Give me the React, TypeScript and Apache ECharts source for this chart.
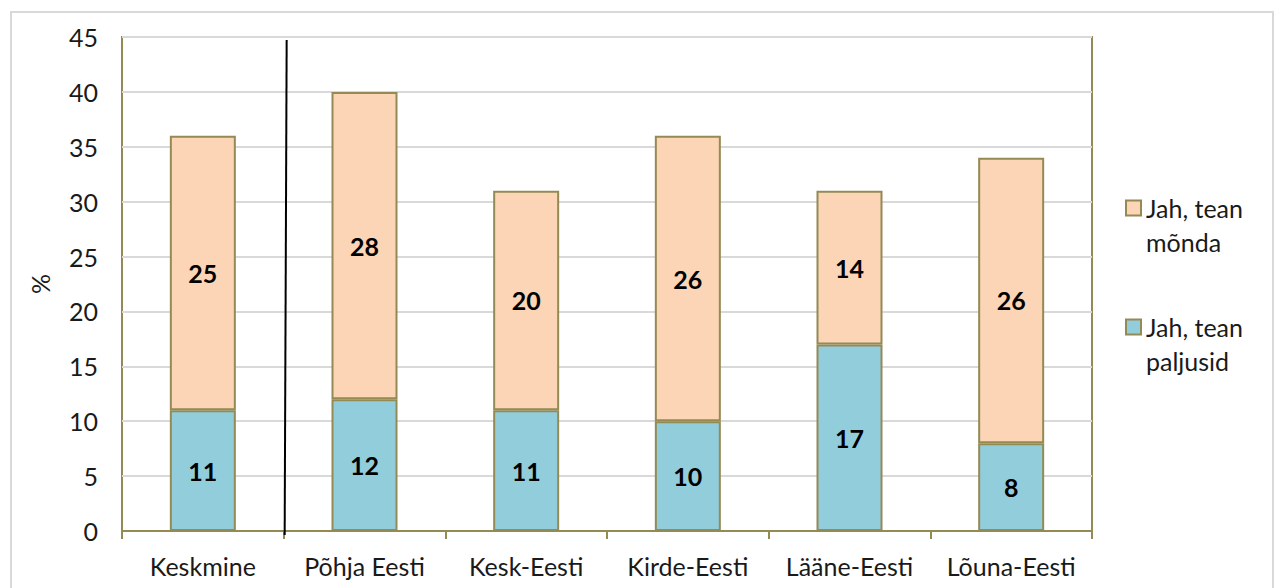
import React, { useEffect, useRef } from "react";
import * as echarts from "echarts";

const categories = ["Keskmine", "Põhja Eesti", "Kesk-Eesti", "Kirde-Eesti", "Lääne-Eesti", "Lõuna-Eesti"];
const paljusid = [11, 12, 11, 10, 17, 8];
const mondaValues = [25, 28, 20, 26, 14, 26];
const seriesNames = ["Jah, tean paljusid", "Jah, tean mõnda"];
const legendOrder = ["Jah, tean mõnda", "Jah, tean paljusid"];
const yTicks = { min: 0, max: 45, interval: 5 };

const FONT = "Lato, 'Open Sans', sans-serif";
const OLIVE = "#948A54";
const FS = 25;

export default function App() {
  const ref = useRef<HTMLDivElement>(null);
  useEffect(() => {
    const chart = echarts.init(ref.current!, null, { renderer: "svg" });
    const labelStyle = {
      show: true,
      position: "inside",
      color: "#000",
      fontFamily: FONT,
      fontWeight: "bold",
      fontSize: FS,
    };
    chart.setOption({
      animation: false,
      backgroundColor: "#fff",
      grid: {
        left: 122,
        right: 182,
        top: 37,
        bottom: 57,
        show: true,
        borderColor: OLIVE,
        borderWidth: 2,
      },
      legend: {
        orient: "vertical",
        left: 1120,
        top: 152,
        itemGap: 17,
        itemWidth: 15,
        itemHeight: 15,
        icon: "rect",
        data: legendOrder,
        formatter: (n: string) => "\n" + n.replace("tean ", "tean\n"),
        textStyle: {
          fontFamily: FONT,
          fontSize: FS,
          color: "#1a1a1a",
          lineHeight: 34,
        },
      },
      xAxis: {
        type: "category",
        data: categories,
        axisLine: { lineStyle: { color: OLIVE, width: 2 } },
        axisTick: { show: true, interval: 0, length: 8, lineStyle: { color: OLIVE, width: 2 } },
        axisLabel: { interval: 0, hideOverlap: false, fontFamily: FONT, fontSize: FS, color: "#1a1a1a", margin: 22 },
      },
      yAxis: {
        type: "value",
        min: yTicks.min,
        max: yTicks.max,
        interval: yTicks.interval,
        name: "%",
        nameLocation: "middle",
        nameRotate: 90,
        nameGap: 70,
        nameTextStyle: { fontFamily: FONT, fontSize: FS, color: "#1a1a1a" },
        axisLine: { show: false },
        axisTick: { show: false },
        axisLabel: { fontFamily: FONT, fontSize: FS, color: "#1a1a1a", margin: 24 },
        splitLine: { lineStyle: { color: "#d9d9d9", width: 2 } },
      },
      series: [
        {
          name: seriesNames[0],
          type: "bar",
          stack: "total",
          data: paljusid,
          barWidth: 66,
          itemStyle: { color: "#92CDDC", borderColor: OLIVE, borderWidth: 2 },
          label: labelStyle,
        },
        {
          name: seriesNames[1],
          type: "bar",
          stack: "total",
          data: mondaValues,
          barWidth: 66,
          itemStyle: { color: "#FBD5B5", borderColor: OLIVE, borderWidth: 2 },
          label: labelStyle,
        },
      ],
    });
    const c0 = chart.convertToPixel({ xAxisIndex: 0 }, categories[0]) as number;
    const c1 = chart.convertToPixel({ xAxisIndex: 0 }, categories[1]) as number;
    const yTop = chart.convertToPixel({ yAxisIndex: 0 }, yTicks.max) as number;
    const yBot = chart.convertToPixel({ yAxisIndex: 0 }, yTicks.min) as number;
    const bx = (c0 + c1) / 2;
    chart.setOption({
      graphic: [
        {
          type: "rect",
          shape: { x: 11, y: 12, width: 1262, height: 600 },
          style: { fill: "none", stroke: "#d9d9d9", lineWidth: 2 },
          silent: true,
          z: 0,
        },
        {
          type: "line",
          shape: { x1: bx + 3, y1: yTop + 3, x2: bx + 1, y2: yBot + 4 },
          style: { stroke: "#000", lineWidth: 2 },
          z: 100,
        },
      ],
    });
    return () => chart.dispose();
  }, []);
  return <div ref={ref} style={{ position: "fixed", left: 0, top: 0, width: 1274, height: 588 }} />;
}
